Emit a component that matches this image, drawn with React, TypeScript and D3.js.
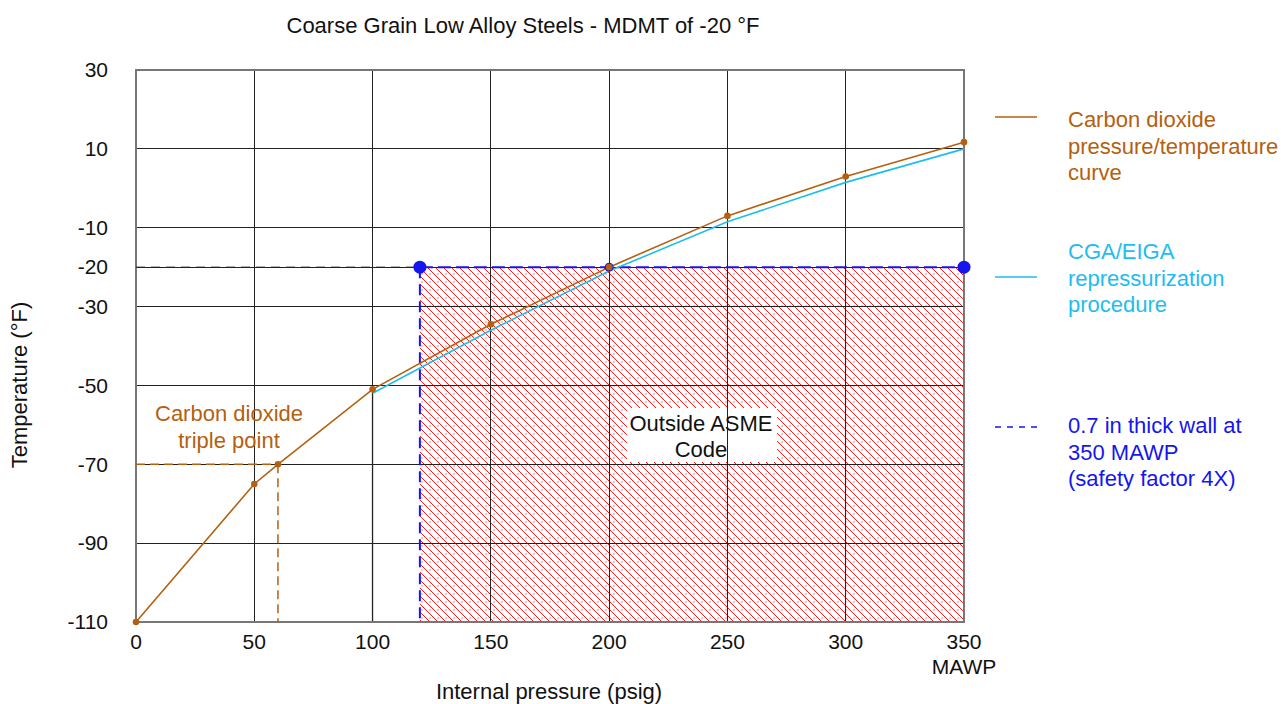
import React from "react";
import * as d3 from "d3";

const xTicks = [0, 50, 100, 150, 200, 250, 300, 350];
const yTicks = [30, 10, -10, -20, -30, -50, -70, -90, -110];
const co2Pressure = [0, 50, 60, 100, 150, 200, 250, 300, 350];
const co2Temp = [-110, -75, -70, -51, -34.5, -20, -7, 3, 11.7];
const cgaPressure = [100, 100, 150, 200, 250, 300, 350];
const cgaTemp = [-110, -52, -36, -21, -8.5, 1.5, 10];
const mdmt = -20;
const wallPressureStart = 120;
const wallPressureEnd = 350;
const triplePoint = { p: 60, t: -70 };
const legendItems = [
  { lines: ["Carbon dioxide", "pressure/temperature", "curve"], color: "#B5600F", dash: "" },
  { lines: ["CGA/EIGA", "repressurization", "procedure"], color: "#1EBDF0", dash: "" },
  { lines: ["0.7 in thick wall at", "350 MAWP", "(safety factor 4X)"], color: "#1515F0", dash: "6,6" },
];

const W = 1281;
const H = 704;
const FONT = "'Liberation Sans', Arial, sans-serif";
const BROWN = "#B5600F";
const CYAN = "#1EBDF0";
const BLUE = "#1515F0";

export default function App() {
  const x = d3.scaleLinear().domain([0, 350]).range([136, 964]);
  const y = d3.scaleLinear().domain([-110, 30]).range([622, 70]);
  const line = d3
    .line<[number, number]>()
    .x((d) => x(d[0]))
    .y((d) => y(d[1]));
  const co2 = co2Pressure.map((p, i) => [p, co2Temp[i]] as [number, number]);
  const cga = cgaPressure.map((p, i) => [p, cgaTemp[i]] as [number, number]);

  return (
    <svg
      width={W}
      height={H}
      style={{ position: "absolute", left: 0, top: 0, fontFamily: FONT }}
    >
      <defs>
        <pattern id="hatch" patternUnits="userSpaceOnUse" width={8} height={8}>
          <rect width={8} height={8} fill="#fff" />
          <path d="M0,0 L8,8 M-2,6 L2,10 M6,-2 L10,2" stroke="#FF1A1A" strokeWidth={1} />
          <rect x={5.5} y={1.5} width={1} height={1} fill="#FF1A1A" />
        </pattern>
      </defs>
      <rect width={W} height={H} fill="#fff" />
      <text x={523} y={33} fontSize={22} textAnchor="middle" fill="#111">
        Coarse Grain Low Alloy Steels - MDMT of -20 °F
      </text>

      {/* hatched region */}
      <rect
        x={x(wallPressureStart)}
        y={y(mdmt)}
        width={x(wallPressureEnd) - x(wallPressureStart)}
        height={y(-110) - y(mdmt)}
        fill="url(#hatch)"
      />
      <rect x={627} y={408} width={150} height={54} fill="#fff" />

      {/* vertical part of CGA curve, under the grid */}
      <path d={line(cga.slice(0, 2)) || ""} fill="none" stroke={CYAN} strokeWidth={1.6} />

      {/* grid */}
      <g shapeRendering="crispEdges">
        {xTicks.map((t) => (
          <line key={"gx" + t} x1={x(t)} x2={x(t)} y1={y(30)} y2={y(-110)} stroke="#222" strokeWidth={1} />
        ))}
        {yTicks.map((t) => (
          <line key={"gy" + t} x1={x(0)} x2={x(350)} y1={y(t)} y2={y(t)} stroke="#222" strokeWidth={1} />
        ))}
        <rect x={x(0)} y={y(30)} width={x(350) - x(0)} height={y(-110) - y(30)} fill="none" stroke="#777" strokeWidth={1.5} />
      </g>

      {/* MDMT dashed lines */}
      <line x1={x(0)} x2={x(wallPressureStart)} y1={y(mdmt)} y2={y(mdmt)} stroke="#222" strokeDasharray="9,6" strokeWidth={1} />
      <line x1={x(wallPressureStart)} x2={x(wallPressureEnd)} y1={y(mdmt)} y2={y(mdmt)} stroke={BLUE} strokeDasharray="13,5" strokeWidth={2} />
      <line x1={x(wallPressureStart)} x2={x(wallPressureStart)} y1={y(mdmt)} y2={y(-110)} stroke={BLUE} strokeDasharray="11,6" strokeWidth={2} />

      {/* triple point dashed lines */}
      <line x1={x(0)} x2={x(triplePoint.p)} y1={y(triplePoint.t)} y2={y(triplePoint.t)} stroke={BROWN} strokeDasharray="9,5" strokeWidth={1.5} />
      <line x1={x(triplePoint.p)} x2={x(triplePoint.p)} y1={y(triplePoint.t)} y2={y(-110)} stroke={BROWN} strokeDasharray="9,5" strokeWidth={1.5} />

      {/* curves */}
      <path d={line(cga.slice(1)) || ""} fill="none" stroke={CYAN} strokeWidth={1.6} />
      <path d={line(co2) || ""} fill="none" stroke={BROWN} strokeWidth={1.6} />

      {/* markers */}
      <circle cx={x(200)} cy={y(mdmt)} r={4.5} fill={BLUE} />
      {co2.map((d, i) => (
        <circle key={"m" + i} cx={x(d[0])} cy={y(d[1])} r={3.3} fill={BROWN} />
      ))}
      <circle cx={x(wallPressureStart)} cy={y(mdmt)} r={6.5} fill={BLUE} />
      <circle cx={x(wallPressureEnd)} cy={y(mdmt)} r={6.5} fill={BLUE} />

      {/* axis tick labels */}
      {yTicks.map((t) => (
        <text key={"yl" + t} x={108} y={y(t)} dy="0.35em" fontSize={21} textAnchor="end" fill="#111">
          {t}
        </text>
      ))}
      {xTicks.map((t) => (
        <text key={"xl" + t} x={x(t)} y={649} fontSize={21} textAnchor="middle" fill="#111">
          {t}
        </text>
      ))}
      <text x={x(350)} y={674} fontSize={21} textAnchor="middle" fill="#111">
        MAWP
      </text>
      <text x={549} y={699} fontSize={22} textAnchor="middle" fill="#111">
        Internal pressure (psig)
      </text>
      <text transform="translate(27,385) rotate(-90)" fontSize={22} textAnchor="middle" fill="#111">
        Temperature (°F)
      </text>

      {/* annotations */}
      <text x={229} y={421} fontSize={22} textAnchor="middle" fill={BROWN}>
        Carbon dioxide
      </text>
      <text x={229} y={448} fontSize={22} textAnchor="middle" fill={BROWN}>
        triple point
      </text>
      <text x={701} y={431} fontSize={22} textAnchor="middle" fill="#111">
        Outside ASME
      </text>
      <text x={701} y={457} fontSize={22} textAnchor="middle" fill="#111">
        Code
      </text>

      {/* legend */}
      {legendItems.map((item, i) => {
        const ly = [117, 277, 427][i];
        const ty = [127, 259, 433][i];
        return (
          <g key={"lg" + i}>
            <line x1={995} x2={1037} y1={ly} y2={ly} stroke={item.color} strokeWidth={1.6} strokeDasharray={item.dash || undefined} />
            {item.lines.map((s, j) => (
              <text key={j} x={1068} y={ty + j * 26.5} fontSize={22} fill={item.color}>
                {s}
              </text>
            ))}
          </g>
        );
      })}
    </svg>
  );
}
